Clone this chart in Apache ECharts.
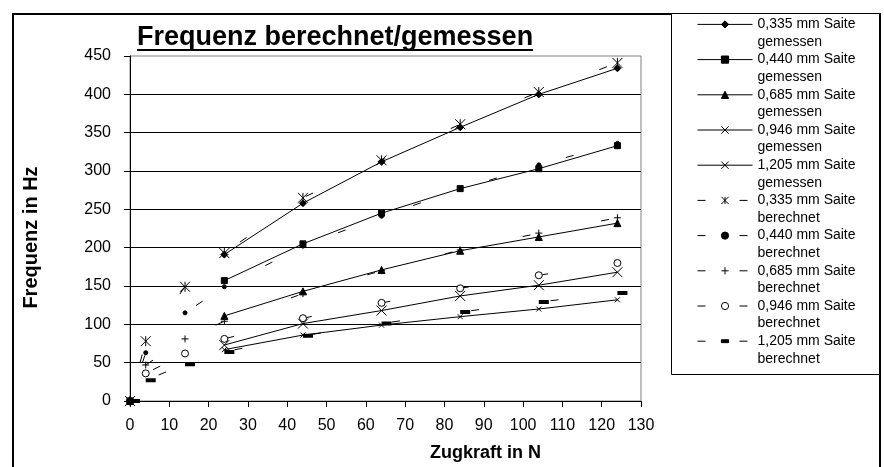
<!DOCTYPE html>
<html><head><meta charset="utf-8">
<script src="https://cdn.jsdelivr.net/npm/echarts@6/dist/echarts.min.js"></script>
<style>html,body{margin:0;padding:0;background:#fff}#c{width:884px;height:467px}</style>
</head><body><div id="c"></div>
<script>
// ---- data ----
const titleText = 'Frequenz berechnet/gemessen';
const xTitle = 'Zugkraft in N';
const yTitle = 'Frequenz in Hz';
const diameters = ['0,335', '0,440', '0,685', '0,946', '1,205'];
const zugkraft = [0, 4, 14, 24, 44, 64, 84, 104, 124];
// gemessen (measured)
const g0335 = [0, '-', '-', 191, 258, 312, 357, 400, 434];
const g0440 = [0, '-', '-', 157, 205, 245, 277, 303, 333];
const g0685 = [0, '-', '-', 111, 143, 171, 196, 214, 232];
const g0946 = [0, '-', '-', 73, 101, 118, 137, 151, 168];
const g1205 = [0, '-', '-', 67, 86, 99, 110, 120, 132];
// berechnet (calculated)
const b0335 = [0, 78, 149, 193, 265, 314, 361, 403, 441];
const b0440 = [0, 63, 115, 149, 202, 241, 276, 308, 336];
const b0685 = [0, 47, 81, 104, 140, 170, 197, 219, 239];
const b0946 = [0, 36, 62, 81, 108, 128, 147, 164, 180];
const b1205 = [0, 27, 48, 64, 85, 101, 116, 129, 141];

// ---- styling ----
const FONT = '"Liberation Sans", Arial, sans-serif';
const SYM_X = 'path://M0,0L10,10M10,0L0,10';
const SYM_STAR = 'path://M0,0L10,10M10,0L0,10M5,0L5,10';
const SYM_PLUS = 'path://M5,0L5,10M0,5L10,5';
const SYM_DASH = 'path://M0,0L0.01,0L0.01,0.01ZM0,10L0.01,10L0.01,9.99ZM0,3L10,3L10,7L0,7Z';

const gemessen = [g0335, g0440, g0685, g0946, g1205];
const berechnet = [b0335, b0440, b0685, b0946, b1205];
const gSym = [['diamond', 7, '#000'], ['rect', 6, '#000'], ['triangle', 7, '#000'], [SYM_X, 10, '#000'], [SYM_X, 5, '#000']];
const bSym = [[SYM_STAR, 10, '#000'], ['circle', 4, '#000'], [SYM_PLUS, 7, '#000'], ['circle', 7, '#fff'], [SYM_DASH, 10, '#000']];

function toPairs(ys) { return zugkraft.map((x, i) => [x, ys[i]]); }

const series = [];
const legendData = [];
diameters.forEach((d, i) => {
  const name = d + ' mm Saite\ngemessen';
  series.push({
    name, type: 'line', data: toPairs(gemessen[i]),
    symbol: gSym[i][0], symbolSize: gSym[i][1],
    itemStyle: {color: gSym[i][2], borderColor: '#000', borderWidth: 1},
    lineStyle: {color: '#000', width: 1, type: 'solid'},
    emphasis: {disabled: true}, z: 3
  });
  legendData.push({name, lineStyle: {type: 'solid', width: 1, color: '#000'}});
});
diameters.forEach((d, i) => {
  const name = d + ' mm Saite\nberechnet';
  series.push({
    name, type: 'line', data: toPairs(berechnet[i]),
    symbol: bSym[i][0], symbolSize: bSym[i][1],
    symbolOffset: i === 4 ? [5, 0] : [0, 0],
    itemStyle: {color: bSym[i][2], borderColor: '#000', borderWidth: i === 4 ? 0 : 1},
    lineStyle: {color: '#000', width: 1, type: [8, 72], dashOffset: 40},
    emphasis: {disabled: true}, z: 2
  });
  legendData.push({name, lineStyle: {type: [8, 34], dashOffset: 0, width: 1, color: '#000'}});
});

const chart = echarts.init(document.getElementById('c'), null, {renderer: 'canvas'});

// underline width for title
const TITLE_SIZE = 27;
const cv = document.createElement('canvas').getContext('2d');
cv.font = 'bold ' + TITLE_SIZE + 'px ' + FONT;
const titleW = cv.measureText(titleText).width;

chart.setOption({
  animation: false,
  backgroundColor: '#fff',
  title: {
    text: titleText, left: 137, top: 24, padding: 0,
    textStyle: {fontFamily: FONT, fontSize: TITLE_SIZE, fontWeight: 'bold', color: '#000'}
  },
  graphic: [
    {type: 'rect', silent: true, shape: {x: 13, y: 14, width: 867, height: 500},
     style: {fill: 'none', stroke: '#000', lineWidth: 2}, z: -1},
    {type: 'rect', silent: true, shape: {x: 137, y: 49, width: titleW, height: 2},
     style: {fill: '#000'}},
    {type: 'rect', silent: true, shape: {x: 671.5, y: 13.5, width: 208, height: 361},
     style: {fill: '#fff', stroke: '#000', lineWidth: 1}, z: 0}
  ],
  grid: {left: 130, top: 56, right: 243, bottom: 66, show: true, borderColor: '#808080', borderWidth: 1, outerBoundsMode: 'none', containLabel: false},
  xAxis: {
    type: 'value', min: 0, max: 130, interval: 10,
    name: xTitle, nameLocation: 'middle', nameGap: 43,
    nameTextStyle: {fontFamily: FONT, fontSize: 18, fontWeight: 'bold', color: '#000', padding: [0, 0, 0, 200]},
    axisLine: {show: true, lineStyle: {color: '#000', width: 1}},
    axisTick: {show: true, inside: false, length: 6, lineStyle: {color: '#000'}},
    axisLabel: {fontFamily: FONT, fontSize: 16, color: '#000', margin: 17},
    splitLine: {show: false}
  },
  yAxis: {
    type: 'value', min: 0, max: 450, interval: 50,
    name: yTitle, nameLocation: 'middle', nameGap: 89, nameRotate: 90,
    nameTextStyle: {fontFamily: FONT, fontSize: 20, fontWeight: 'bold', color: '#000', padding: [0, 18, 0, 0]},
    axisLine: {show: true, lineStyle: {color: '#000', width: 1}},
    axisTick: {show: true, inside: false, length: 6, lineStyle: {color: '#000'}},
    axisLabel: {fontFamily: FONT, fontSize: 16, color: '#000', margin: 19},
    splitLine: {show: true, showMaxLine: false, lineStyle: {color: '#000', width: 1}}
  },
  legend: {
    orient: 'vertical', left: 697, top: -2,
    padding: 0, borderWidth: 0, z: 5,
    itemWidth: 55, itemHeight: 9, itemGap: -17.6,
    selectedMode: false,
    itemStyle: {borderWidth: 1},
    lineStyle: {width: 1},
    formatter: name => '\n' + name,
    textStyle: {fontFamily: FONT, fontSize: 14, color: '#000', lineHeight: 17.6},
    data: legendData
  },
  tooltip: {show: false},
  series
});
</script>
</body></html>
